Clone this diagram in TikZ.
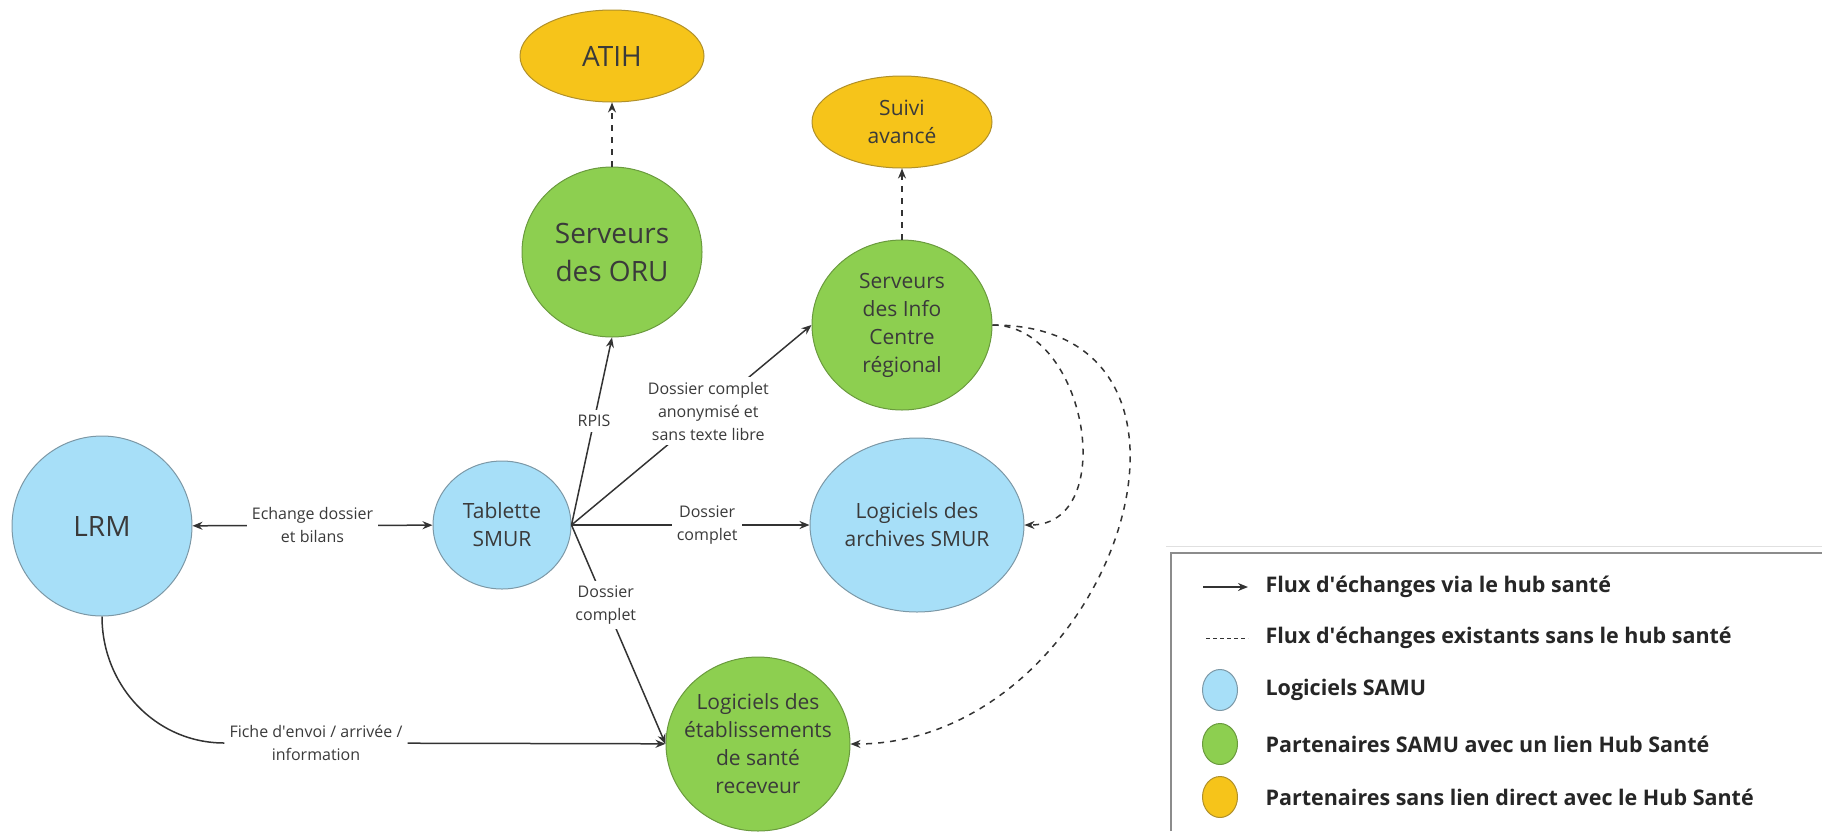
\documentclass[tikz,border=0pt]{standalone}
\usepackage{fontspec}
\setmainfont{Open Sans}
\usepackage{tikz}
\usetikzlibrary{graphs}
\usetikzlibrary{quotes}
\usetikzlibrary{shapes.geometric}
\usetikzlibrary{arrows.meta}
\usepackage{xcolor}

\definecolor{bleusamu}{HTML}{A7DFF8}
\definecolor{vertsamu}{HTML}{8DCF50}
\definecolor{jaunesamu}{HTML}{F6C41A}
\definecolor{bordbleu}{HTML}{7C98A6}
\definecolor{bordvert}{HTML}{6A9A3E}
\definecolor{bordjaune}{HTML}{B0902A}
\definecolor{textegris}{HTML}{3A3A3A}
\definecolor{traitgris}{HTML}{333333}

\tikzset{
  noeud/.style={ellipse, line width=1pt, inner sep=-15pt, align=center, text=textegris},
  samu/.style={noeud, fill=bleusamu, draw=bordbleu},
  partenaire/.style={noeud, fill=vertsamu, draw=bordvert},
  externe/.style={noeud, fill=jaunesamu, draw=bordjaune},
  grand/.style={font=\fontsize{28}{38}\selectfont},
  petit/.style={font=\fontsize{21}{28}\selectfont},
  flux/.style={draw=traitgris, line width=1.5pt},
  existe/.style={draw=traitgris, line width=1.5pt, dash pattern=on 6pt off 6pt},
  lien/.style={fill=white, font=\fontsize{16}{23}\selectfont, text=textegris, align=center, inner sep=5pt},
  every edge quotes/.style={lien},
  legende/.style={anchor=west, font=\fontsize{21.5}{28}\selectfont\bfseries, text=black!85},
}

\begin{document}
\begin{tikzpicture}[x=1pt, y=-1pt, >={Stealth[length=10pt, width=8pt]}]
  \useasboundingbox (0,0) rectangle (1822,831);

  \node[externe, grand, minimum width=184, minimum height=92] (atih) at (612,56) {ATIH};
  \node[partenaire, grand, minimum width=180, minimum height=170] (oru) at (612,252) {Serveurs\\des ORU};
  \node[externe, petit, minimum width=180, minimum height=92] (suivi) at (902,122) {Suivi\\avancé};
  \node[partenaire, petit, minimum width=180, minimum height=170] (info) at (902,325) {Serveurs\\des Info\\Centre\\régional};
  \node[samu, grand, minimum width=180, minimum height=180] (lrm) at (102,526) {LRM};
  \node[samu, petit, minimum width=138, minimum height=128] (tab) at (502,525) {Tablette\\SMUR};
  \node[samu, petit, minimum width=214, minimum height=174] (arch) at (917,525) {Logiciels des\\archives SMUR};
  \node[partenaire, petit, minimum width=184, minimum height=174] (etab) at (758,744) {Logiciels des\\établissements\\de santé\\receveur};
  \node[lien] (fiche) at (316,743) {Fiche d\textquotesingle envoi / arrivée /\\information};

  \graph {(oru) ->[existe] (atih)};
  \graph {(info) ->[existe] (suivi)};
  \graph {(lrm) <->[flux, "Echange dossier\\et bilans"] (tab)};
  \path (tab.east) edge[flux, ->, "RPIS" pos=0.556] (oru.south)
                   edge[flux, ->, "Dossier complet\\anonymisé et\\sans texte libre" pos=0.57] (info.west)
                   edge[flux, ->, "Dossier\\complet" pos=0.57] (arch.west)
                   edge[flux, ->, "Dossier\\complet" pos=0.365] (etab.west);
  \graph {(lrm) --[flux, out=-90, in=180] (fiche)};
  \graph {(fiche) ->[flux] (etab)};
  \graph {(info) ->[existe, out=0, in=0, looseness=1.2] (arch)};
  \graph {(info) ->[existe, out=0, in=0, looseness=1.5] (etab)};

  % legende
  \draw[black!12, line width=1pt] (1166,546) -- (1822,546);
  \draw[black!45, line width=1.5pt] (1171,831) |- (1822,553);
  \coordinate (fl1) at (1203,587);
  \coordinate (fl2) at (1248,587);
  \draw[flux, ->] (fl1) -- (fl2);
  \coordinate (fe1) at (1206,638);
  \coordinate (fe2) at (1248,638);
  \draw[traitgris, line width=1pt, dash pattern=on 4pt off 3pt] (fe1) -- (fe2);
  \node[samu, minimum width=35, minimum height=41] (lsamu) at (1220,690) {};
  \node[partenaire, minimum width=35, minimum height=41] (lpart) at (1220,744) {};
  \node[externe, minimum width=35, minimum height=41] (lext) at (1220,797) {};
  \node[legende] (tflux) at (1262,587) {Flux d\textquotesingle échanges via le hub santé};
  \node[legende] (texist) at (1262,638) {Flux d\textquotesingle échanges existants sans le hub santé};
  \node[legende] (tsamu) at (1262,690) {Logiciels SAMU};
  \node[legende] (tpart) at (1262,744) {Partenaires SAMU avec un lien Hub Santé};
  \node[legende] (text) at (1262,797) {Partenaires sans lien direct avec le Hub Santé};
\end{tikzpicture}
\end{document}
